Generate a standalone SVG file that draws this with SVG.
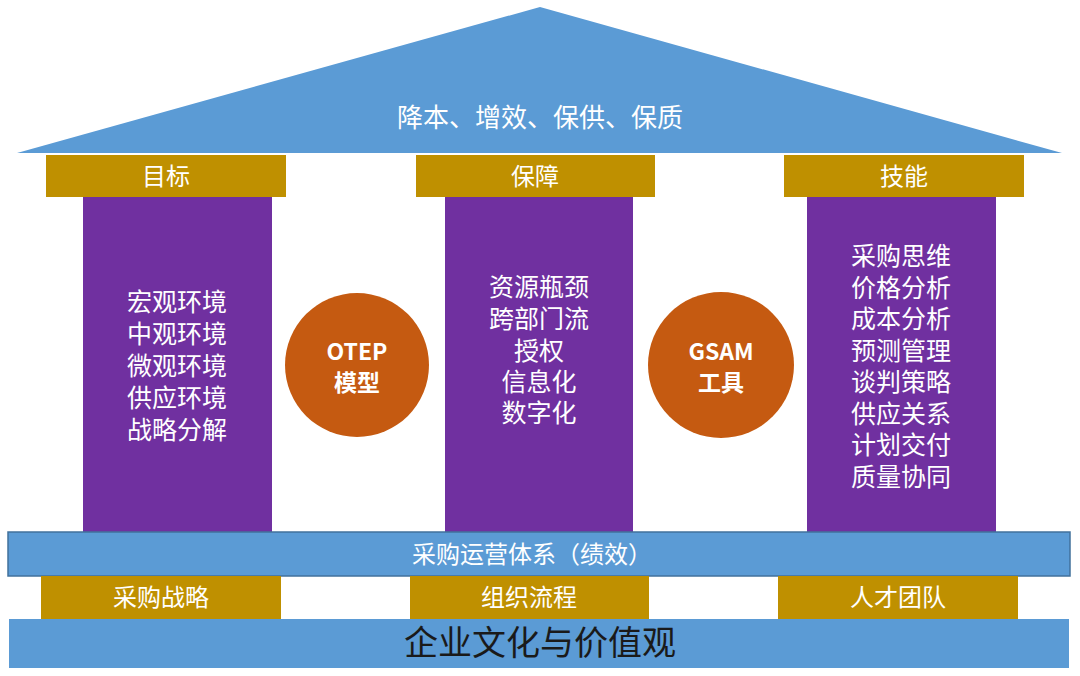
<svg xmlns="http://www.w3.org/2000/svg" width="1080" height="676" viewBox="0 0 1080 676">
<style>
.t{font-family:"Noto Sans CJK SC","Noto Sans",sans-serif;fill:#ffffff;text-anchor:middle}
.blue{fill:#5B9BD5}
.bar{fill:#5B9BD5;stroke:#41719C;stroke-width:1.5}
.gold{fill:#BF9000}
.purple{fill:#7030A0}
.orange{fill:#C55A11}
.col{font-size:25px}
</style>
<rect width="1080" height="676" fill="#ffffff"/>
<g id="roof">
<polygon class="blue" points="540,7 1062,153 17,153"/>
<text class="t" x="540" y="127" font-size="26">降本、增效、保供、保质</text>
</g>
<g id="cap-mubiao">
<rect class="gold" x="46" y="155" width="240" height="42"/>
<text class="t" x="166" y="185" font-size="24">目标</text>
</g>
<g id="cap-baozhang">
<rect class="gold" x="416" y="155" width="239" height="42"/>
<text class="t" x="535" y="185" font-size="24">保障</text>
</g>
<g id="cap-jineng">
<rect class="gold" x="784" y="155" width="240" height="42"/>
<text class="t" x="904" y="185" font-size="24">技能</text>
</g>
<g id="col-mubiao">
<rect class="purple" x="83" y="197" width="189" height="335"/>
<text class="t col" x="177" y="311">宏观环境</text>
<text class="t col" x="177" y="343">中观环境</text>
<text class="t col" x="177" y="375">微观环境</text>
<text class="t col" x="177" y="407">供应环境</text>
<text class="t col" x="177" y="439">战略分解</text>
</g>
<g id="col-baozhang">
<rect class="purple" x="445" y="197" width="188" height="335"/>
<text class="t col" x="539" y="296">资源瓶颈</text>
<text class="t col" x="539" y="328">跨部门流</text>
<text class="t col" x="539" y="360">授权</text>
<text class="t col" x="539" y="391">信息化</text>
<text class="t col" x="539" y="422">数字化</text>
</g>
<g id="col-jineng">
<rect class="purple" x="807" y="197" width="189" height="335"/>
<text class="t col" x="901" y="265">采购思维</text>
<text class="t col" x="901" y="297">价格分析</text>
<text class="t col" x="901" y="328">成本分析</text>
<text class="t col" x="901" y="360">预测管理</text>
<text class="t col" x="901" y="391">谈判策略</text>
<text class="t col" x="901" y="423">供应关系</text>
<text class="t col" x="901" y="454">计划交付</text>
<text class="t col" x="901" y="486">质量协同</text>
</g>
<g id="otep">
<circle class="orange" cx="357" cy="365" r="72"/>
<text class="t" x="357" y="360" font-size="23" font-weight="bold">OTEP</text>
<text class="t" x="357" y="391" font-size="23" font-weight="bold">模型</text>
</g>
<g id="gsam">
<circle class="orange" cx="721" cy="365" r="73"/>
<text class="t" x="721" y="360" font-size="23" font-weight="bold">GSAM</text>
<text class="t" x="721" y="391" font-size="23" font-weight="bold">工具</text>
</g>
<g id="ops">
<rect class="bar" x="8" y="532" width="1062" height="44"/>
<text class="t" x="532" y="563" font-size="24">采购运营体系（绩效）</text>
</g>
<g id="base-strategy">
<rect class="gold" x="41" y="576" width="240" height="43"/>
<text class="t" x="161" y="606" font-size="24">采购战略</text>
</g>
<g id="base-process">
<rect class="gold" x="410" y="576" width="239" height="43"/>
<text class="t" x="529" y="606" font-size="24">组织流程</text>
</g>
<g id="base-team">
<rect class="gold" x="778" y="576" width="240" height="43"/>
<text class="t" x="898" y="606" font-size="24">人才团队</text>
</g>
<g id="culture">
<rect class="blue" x="9" y="619" width="1060" height="49"/>
<text class="t" x="540" y="655" font-size="34" style="fill:#1a1a1a">企业文化与价值观</text>
</g>
<g id="connectors"/>
</svg>
